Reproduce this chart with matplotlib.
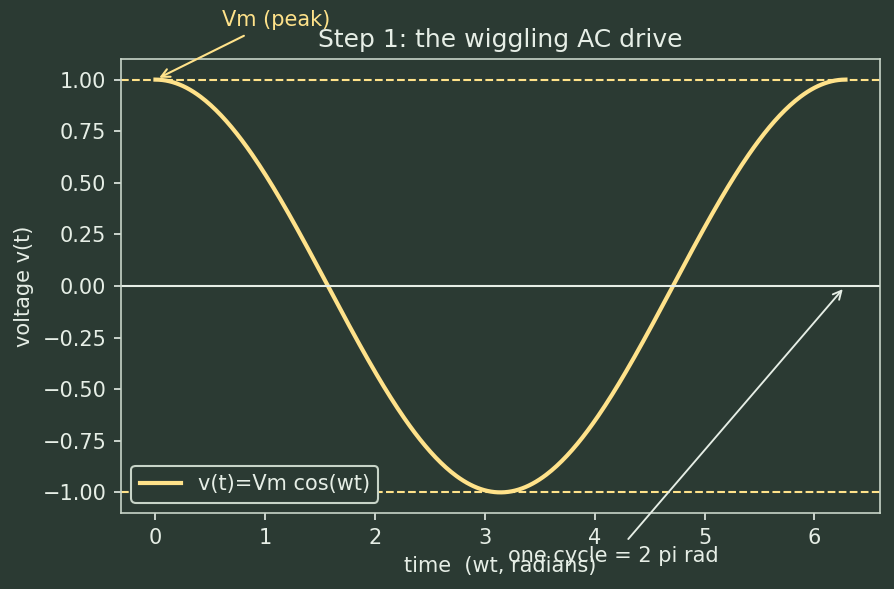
import numpy as np
import matplotlib.pyplot as plt

bg = '#2b3a33'
fg = '#e6eee6'
yellow = '#ffe28a'

Vm = 1.0
wt = np.linspace(0, 2 * np.pi, 400)
v = Vm * np.cos(wt)

title = "Step 1: the wiggling AC drive"
peak_label = "Vm (peak)"
cycle_label = "one cycle = 2 pi rad"

plt.rcParams['text.color'] = fg
plt.rcParams['axes.labelcolor'] = fg
plt.rcParams['xtick.color'] = fg
plt.rcParams['ytick.color'] = fg

fig, ax = plt.subplots(figsize=(5.96, 3.927), dpi=150)
fig.patch.set_facecolor(bg)
ax.set_facecolor(bg)
for s in ax.spines.values():
    s.set_color('#c8d4c8')

ax.plot(wt, v, color=yellow, lw=2.0, label='v(t)=Vm cos(wt)')
ax.axhline(Vm, color=yellow, ls='--', lw=1.0)
ax.axhline(-Vm, color=yellow, ls='--', lw=1.0)
ax.axhline(0, color=fg, lw=1.0)

ax.annotate(peak_label, xy=(0, Vm), xytext=(1.1, 1.29), color=yellow,
            ha='center', va='center', annotation_clip=False,
            arrowprops=dict(arrowstyle='->', color=yellow, lw=1.0))
ax.annotate(cycle_label, xy=(2 * np.pi, 0), xytext=(4.17, -1.31), color=fg,
            ha='center', va='center', annotation_clip=False,
            arrowprops=dict(arrowstyle='->', color=fg, lw=0.9))

ax.set_title(title, color=fg, fontsize=12)
ax.set_xlabel("time  (wt, radians)")
ax.set_ylabel("voltage v(t)")
leg = ax.legend(loc='lower left', facecolor=bg, edgecolor='#c8d4c8', framealpha=1)
for t in leg.get_texts():
    t.set_color(fg)

fig.subplots_adjust(left=0.1353, right=0.9843, top=0.8998, bottom=0.129)
fig.savefig('out.png', facecolor=bg)
